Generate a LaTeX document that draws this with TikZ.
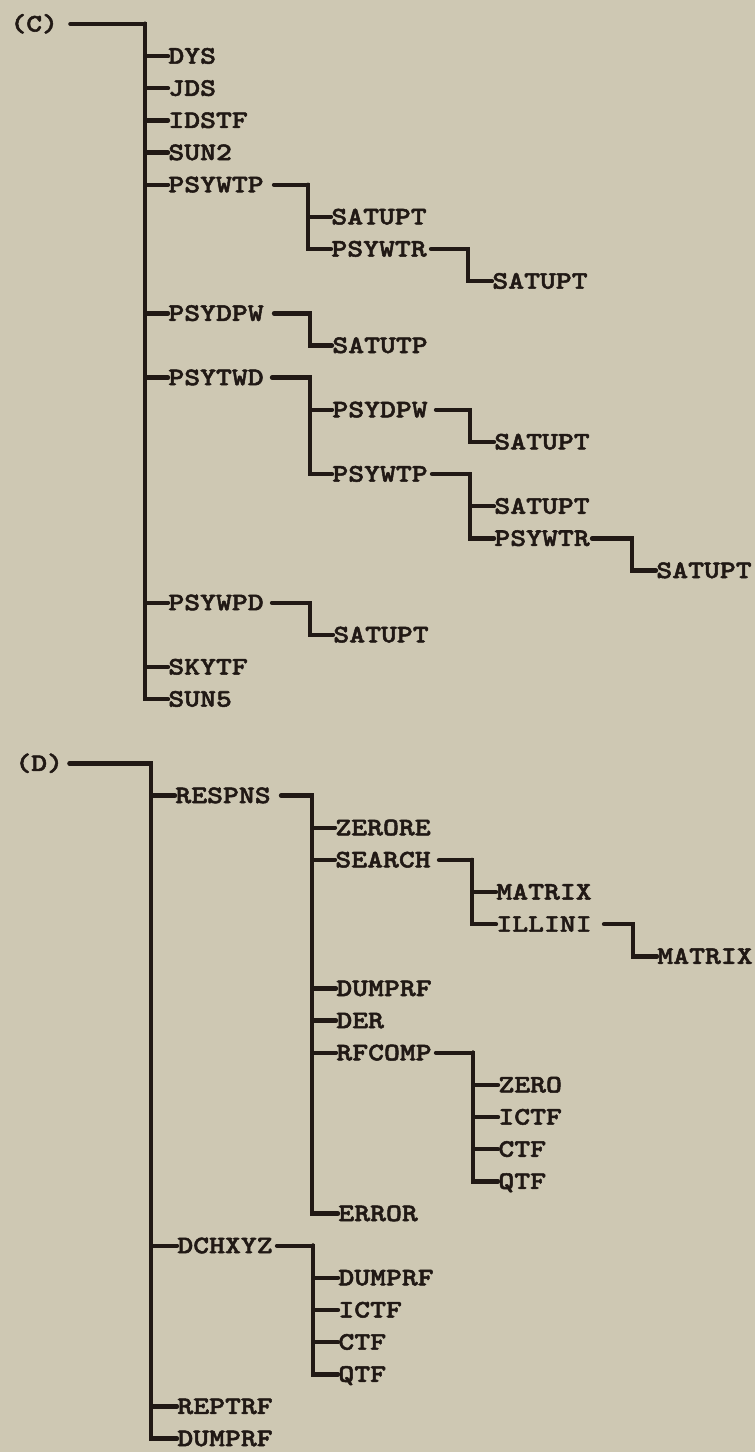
\documentclass[tikz,border=0pt]{standalone}
\usepackage{fontspec}
\newfontfamily\macchina{lmmonolt10-bold.otf}[FakeStretch=1.2, FakeBold=2]
\usepackage{tikz}

\begin{document}
\begin{tikzpicture}[x=0.5pt, y=-16.075pt,
  voce/.style={anchor=west, inner sep=0pt, text height=7.5pt, text depth=0pt,
    font=\macchina\fontsize{12.6pt}{16pt}\selectfont, text=inchiostro},
  ramo/.style={draw=inchiostro, line width=2.2pt, line cap=round}]

% Colori della pagina
\definecolor{carta}{HTML}{CEC8B3}
\definecolor{inchiostro}{HTML}{211915}

% Pagina (una riga = 32.15 px)
\useasboundingbox (0,-0.7465) rectangle (755,44.417);
\fill[carta] (0,-0.7465) rectangle (755,44.417);

% ---------------- Albero (C) ----------------
\node[voce] (C) at (10,0) {(C)};
\coordinate (kC) at (145,0);

% livello 1
\node[voce] (dys)    at (168,1)  {DYS};
\node[voce] (jds)    at (168,2)  {JDS};
\node[voce] (idstf)  at (168,3)  {IDSTF};
\node[voce] (sun2)   at (168,4)  {SUN2};
\node[voce] (psywtp) at (168,5)  {PSYWTP};
\node[voce] (psydpw) at (168,9)  {PSYDPW};
\node[voce] (psytwd) at (168,11) {PSYTWD};
\node[voce] (psywpd) at (168,18) {PSYWPD};
\node[voce] (skytf)  at (168,20) {SKYTF};
\node[voce] (sun5)   at (168,21) {SUN5};

% livello 2
\node[voce] (satuptA) at (331,6)  {SATUPT};
\node[voce] (psywtr)  at (331,7)  {PSYWTR};
\node[voce] (satutp)  at (332,10) {SATUTP};
\node[voce] (psydpwB) at (332,12) {PSYDPW};
\node[voce] (psywtpB) at (332,14) {PSYWTP};
\node[voce] (satuptF) at (333,19) {SATUPT};

% livello 3
\node[voce] (satuptB) at (492,8)  {SATUPT};
\node[voce] (satuptC) at (494,13) {SATUPT};
\node[voce] (satuptD) at (494,15) {SATUPT};
\node[voce] (psywtrB) at (494,16) {PSYWTR};

% livello 4
\node[voce] (satuptE) at (656,17) {SATUPT};

% rami di (C)
\draw[ramo] ([xshift=6pt]C.east) -- (kC) |- (sun5.west);
\foreach \f in {dys,jds,idstf,sun2,psywtp,psydpw,psytwd,psywpd,skytf}
  \draw[ramo] (kC) |- (\f.west);

\coordinate (k1) at (308,5);
\draw[ramo] ([xshift=5pt]psywtp.east) -- (k1) |- (psywtr.west);
\draw[ramo] (k1) |- (satuptA.west);

\coordinate (k2) at (468,7);
\draw[ramo] ([xshift=2pt]psywtr.east) -- (k2) |- (satuptB.west);

\coordinate (k3) at (310,9);
\draw[ramo] ([xshift=5pt]psydpw.east) -- (k3) |- (satutp.west);

\coordinate (k4) at (310,11);
\draw[ramo] ([xshift=4pt]psytwd.east) -- (k4) |- (psywtpB.west);
\draw[ramo] (k4) |- (psydpwB.west);

\coordinate (k5) at (470,12);
\draw[ramo] ([xshift=4pt]psydpwB.east) -- (k5) |- (satuptC.west);

\coordinate (k6) at (470,14);
\draw[ramo] ([xshift=2pt]psywtpB.east) -- (k6) |- (psywtrB.west);
\draw[ramo] (k6) |- (satuptD.west);

\coordinate (k7) at (632,16);
\draw[ramo] ([xshift=1pt]psywtrB.east) -- (k7) |- (satuptE.west);

\coordinate (k8) at (310,18);
\draw[ramo] ([xshift=4pt]psywpd.east) -- (k8) |- (satuptF.west);

% ---------------- Albero (D) ----------------
\node[voce] (D) at (15,23) {(D)};
\coordinate (kD) at (151,23);

% livello 1
\node[voce] (respns)  at (175,24) {RESPNS};
\node[voce] (dchxyz)  at (177,38) {DCHXYZ};
\node[voce] (reptrf)  at (177,43) {REPTRF};
\node[voce] (dumprfC) at (177,44) {DUMPRF};

% livello 2
\node[voce] (zerore)  at (335,25) {ZERORE};
\node[voce] (search)  at (335,26) {SEARCH};
\node[voce] (dumprfA) at (336,30) {DUMPRF};
\node[voce] (der)     at (336,31) {DER};
\node[voce] (rfcomp)  at (336,32) {RFCOMP};
\node[voce] (error)   at (338,37) {ERROR};
\node[voce] (dumprfB) at (338,39) {DUMPRF};
\node[voce] (ictfB)   at (338,40) {ICTF};
\node[voce] (ctfB)    at (338,41) {CTF};
\node[voce] (qtfB)    at (338,42) {QTF};

% livello 3
\node[voce] (matrixA) at (496,27) {MATRIX};
\node[voce] (illini)  at (496,28) {ILLINI};
\node[voce] (zero)    at (498,33) {ZERO};
\node[voce] (ictfA)   at (498,34) {ICTF};
\node[voce] (ctfA)    at (498,35) {CTF};
\node[voce] (qtfA)    at (498,36) {QTF};

% livello 4
\node[voce] (matrixB) at (657,29) {MATRIX};

% rami di (D)
\draw[ramo] ([xshift=3pt]D.east) -- (kD) |- (dumprfC.west);
\foreach \f in {respns,dchxyz,reptrf}
  \draw[ramo] (kD) |- (\f.west);

\coordinate (k9) at (312,24);
\draw[ramo] ([xshift=5pt]respns.east) -- (k9) |- (error.west);
\foreach \f in {zerore,search,dumprfA,der,rfcomp}
  \draw[ramo] (k9) |- (\f.west);

\coordinate (k10) at (472,26);
\draw[ramo] ([xshift=4pt]search.east) -- (k10) |- (illini.west);
\draw[ramo] (k10) |- (matrixA.west);

\coordinate (k11) at (633,28);
\draw[ramo] ([xshift=6pt]illini.east) -- (k11) |- (matrixB.west);

\coordinate (k12) at (473,32);
\draw[ramo] ([xshift=2pt]rfcomp.east) -- (k12) |- (qtfA.west);
\foreach \f in {zero,ictfA,ctfA}
  \draw[ramo] (k12) |- (\f.west);

\coordinate (k13) at (313,38);
\draw[ramo] ([xshift=2pt]dchxyz.east) -- (k13) |- (qtfB.west);
\foreach \f in {dumprfB,ictfB,ctfB}
  \draw[ramo] (k13) |- (\f.west);

\end{tikzpicture}
\end{document}
